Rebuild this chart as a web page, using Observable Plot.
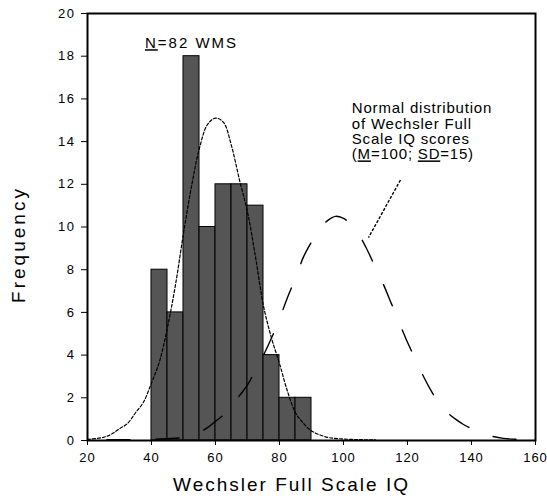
<!DOCTYPE html>
<html><head><meta charset="utf-8">
<script src="https://cdn.jsdelivr.net/npm/d3@7"></script>
<script src="https://cdn.jsdelivr.net/npm/@observablehq/plot@0.6"></script>
<style>
body{margin:0;background:#fff}
#chart{width:547px;height:501px}
</style>
</head><body><div id="chart"></div>
<script>
// Histogram of the WMS sample (bin start, bin width 5)
const binStarts = [40, 45, 50, 55, 60, 65, 70, 75, 80, 85];
const binWidth = 5;
const counts = [8, 6, 18, 10, 12, 12, 11, 4, 2, 2];

// Fitted curve for the sample
const sampleX = [20, 25, 27.5, 30, 32.5, 35, 37.5, 40, 42.5, 45, 47.5, 50, 52.5, 55, 57.5, 60, 62.5, 65, 67.5, 70, 72.5, 75, 77.5, 80, 82.5, 85, 87.5, 90, 95, 100, 105, 110];
const sampleY = [0.05, 0.15, 0.3, 0.55, 0.8, 1.3, 1.8, 2.7, 3.7, 5.3, 7.3, 9.7, 11.9, 13.7, 14.8, 15.1, 14.9, 13.8, 12.2, 10.7, 8.6, 6.3, 4.8, 3.6, 2.3, 1.3, 0.8, 0.45, 0.15, 0.07, 0.04, 0.03];

// Normal distribution of Wechsler Full Scale IQ scores
const normX = [20, 30, 40, 50, 55, 57.5, 60, 62.5, 65, 67.5, 70, 72.5, 75, 77.5, 80, 82.5, 85, 87.5, 90, 92.5, 95, 97.5, 100, 102.5, 105, 107.5, 110, 112.5, 115, 117.5, 120, 122.5, 125, 127.5, 130, 132.5, 135, 137.5, 140, 142.5, 145, 150, 155, 160];
const normY = [0.03, 0.04, 0.06, 0.15, 0.4, 0.6, 0.9, 1.2, 1.6, 2.1, 2.6, 3.3, 4.0, 4.8, 5.7, 6.7, 7.6, 8.6, 9.3, 9.9, 10.3, 10.5, 10.4, 10.1, 9.6, 8.9, 8.1, 7.3, 6.4, 5.5, 4.6, 3.8, 3.0, 2.3, 1.7, 1.3, 1.0, 0.75, 0.55, 0.4, 0.25, 0.1, 0.05, 0.04];

const xTicks = [20, 40, 60, 80, 100, 120, 140, 160];
const yTicks = [0, 2, 4, 6, 8, 10, 12, 14, 16, 18, 20];

const sampleLabel = "N=82 WMS";
const sampleLabelPos = [{x: 52.5, y: 18.6}];
const normLabel = "Normal distribution\nof Wechsler Full\nScale IQ scores\n(M=100; SD=15)";
const normLabelPos = [{x: 102.6, y: 15.85}];
const callout = [{x1: 117.8, y1: 12.2, x2: 107.8, y2: 9.5}];
const xLabel = "Wechsler Full Scale IQ";
const yLabel = "Frequency";
// x value where a dash of the normal curve begins near its peak
const dashAnchorX = 94.4;
const normDash = [23, 26];

const bars = binStarts.map((b, i) => ({x1: b, x2: b + binWidth, y: counts[i]}));
const sample = sampleX.map((x, i) => ({x, y: sampleY[i]}));
const norm = normX.map((x, i) => ({x, y: normY[i]}));

const font = "Liberation Sans, Arial, sans-serif";

const chart = Plot.plot({
  width: 547,
  height: 501,
  marginLeft: 87,
  marginRight: 12,
  marginTop: 13,
  marginBottom: 61,
  style: {fontFamily: font, fontSize: "13px", background: "white", color: "black"},
  x: {domain: [20, 160]},
  y: {domain: [0, 20]},
  marks: [
    Plot.rectY(bars, {x1: "x1", x2: "x2", y: "y", fill: "#555555", stroke: "black", strokeWidth: 1, inset: 0}),
    Plot.line(sample, {x: "x", y: "y", curve: "catmull-rom", stroke: "black", strokeWidth: 1.2, strokeDasharray: "3,2"}),
    Plot.line(norm, {x: "x", y: "y", curve: "catmull-rom", stroke: "black", strokeWidth: 1.4, strokeDasharray: normDash.join(",")}),
    Plot.link(callout, {x1: "x1", y1: "y1", x2: "x2", y2: "y2", stroke: "black", strokeWidth: 1.4, strokeDasharray: "3,1.6"}),
    Plot.frame({stroke: "black", strokeWidth: 2}),
    Plot.axisY({ticks: yTicks, tickSize: 6, tickPadding: 6, label: null, fontSize: 13}),
    Plot.axisX({ticks: xTicks, tickSize: 5, tickPadding: 7, label: null, fontSize: 13}),
    Plot.text([sampleLabel], {x: () => sampleLabelPos[0].x, y: () => sampleLabelPos[0].y, text: d => d, textAnchor: "middle", fontSize: 15, fill: "black"}),
    Plot.text([normLabel], {x: () => normLabelPos[0].x, y: () => normLabelPos[0].y, text: d => d, textAnchor: "start", lineAnchor: "top", lineHeight: 1.03, fontSize: 15, fill: "black"}),
    Plot.text([xLabel], {frameAnchor: "bottom", dy: 50, dx: -20, text: d => d, fontSize: 19, fill: "black"}),
    Plot.text([yLabel], {frameAnchor: "left", text: d => d, fontSize: 19, fill: "black"})
  ]
});

document.getElementById("chart").appendChild(chart);

const svg = d3.select(chart);
svg.selectAll('g[aria-label="y-axis tick label"] text').style("letter-spacing", "1.5px");
svg.selectAll('g[aria-label="x-axis tick label"] text').style("letter-spacing", "1px");
svg.selectAll("text").each(function() {
  const t = this.textContent;
  if (t === xLabel) this.style.letterSpacing = "2px";
  if (t === yLabel) {
    this.style.letterSpacing = "3px";
    this.setAttribute("transform", "translate(24,244) rotate(-90)");
    this.setAttribute("text-anchor", "middle");
    this.removeAttribute("x"); this.removeAttribute("y");
    this.removeAttribute("dy");
  }
  if (t === sampleLabel) {
    this.style.letterSpacing = "2px";
    this.innerHTML = '<tspan style="text-decoration:underline">N</tspan>=82 WMS';
  }
});
svg.selectAll("tspan").each(function() {
  const t = this.textContent;
  if (["Normal distribution", "of Wechsler Full", "Scale IQ scores", "(M=100; SD=15)"].includes(t)) this.style.letterSpacing = "0.8px";
  if (t === "(M=100; SD=15)") {
    this.innerHTML = '(<tspan style="text-decoration:underline">M</tspan>=100; <tspan style="text-decoration:underline">SD</tspan>=15)';
  }
});

// align the dash phase of the normal curve with the reference
const normG = svg.selectAll("g").filter(function() { return this.getAttribute("stroke-dasharray") === normDash.join(","); });
const normPath = normG.select("path").node();
if (normPath) {
  const target = chart.scale("x").apply(dashAnchorX);
  const total = normPath.getTotalLength();
  let L = 0;
  for (let s = 0; s < total; s += 0.5) {
    if (normPath.getPointAtLength(s).x >= target) { L = s; break; }
  }
  const P = normDash[0] + normDash[1];
  normG.attr("stroke-dashoffset", P - (L % P));
}
</script>
</body></html>
